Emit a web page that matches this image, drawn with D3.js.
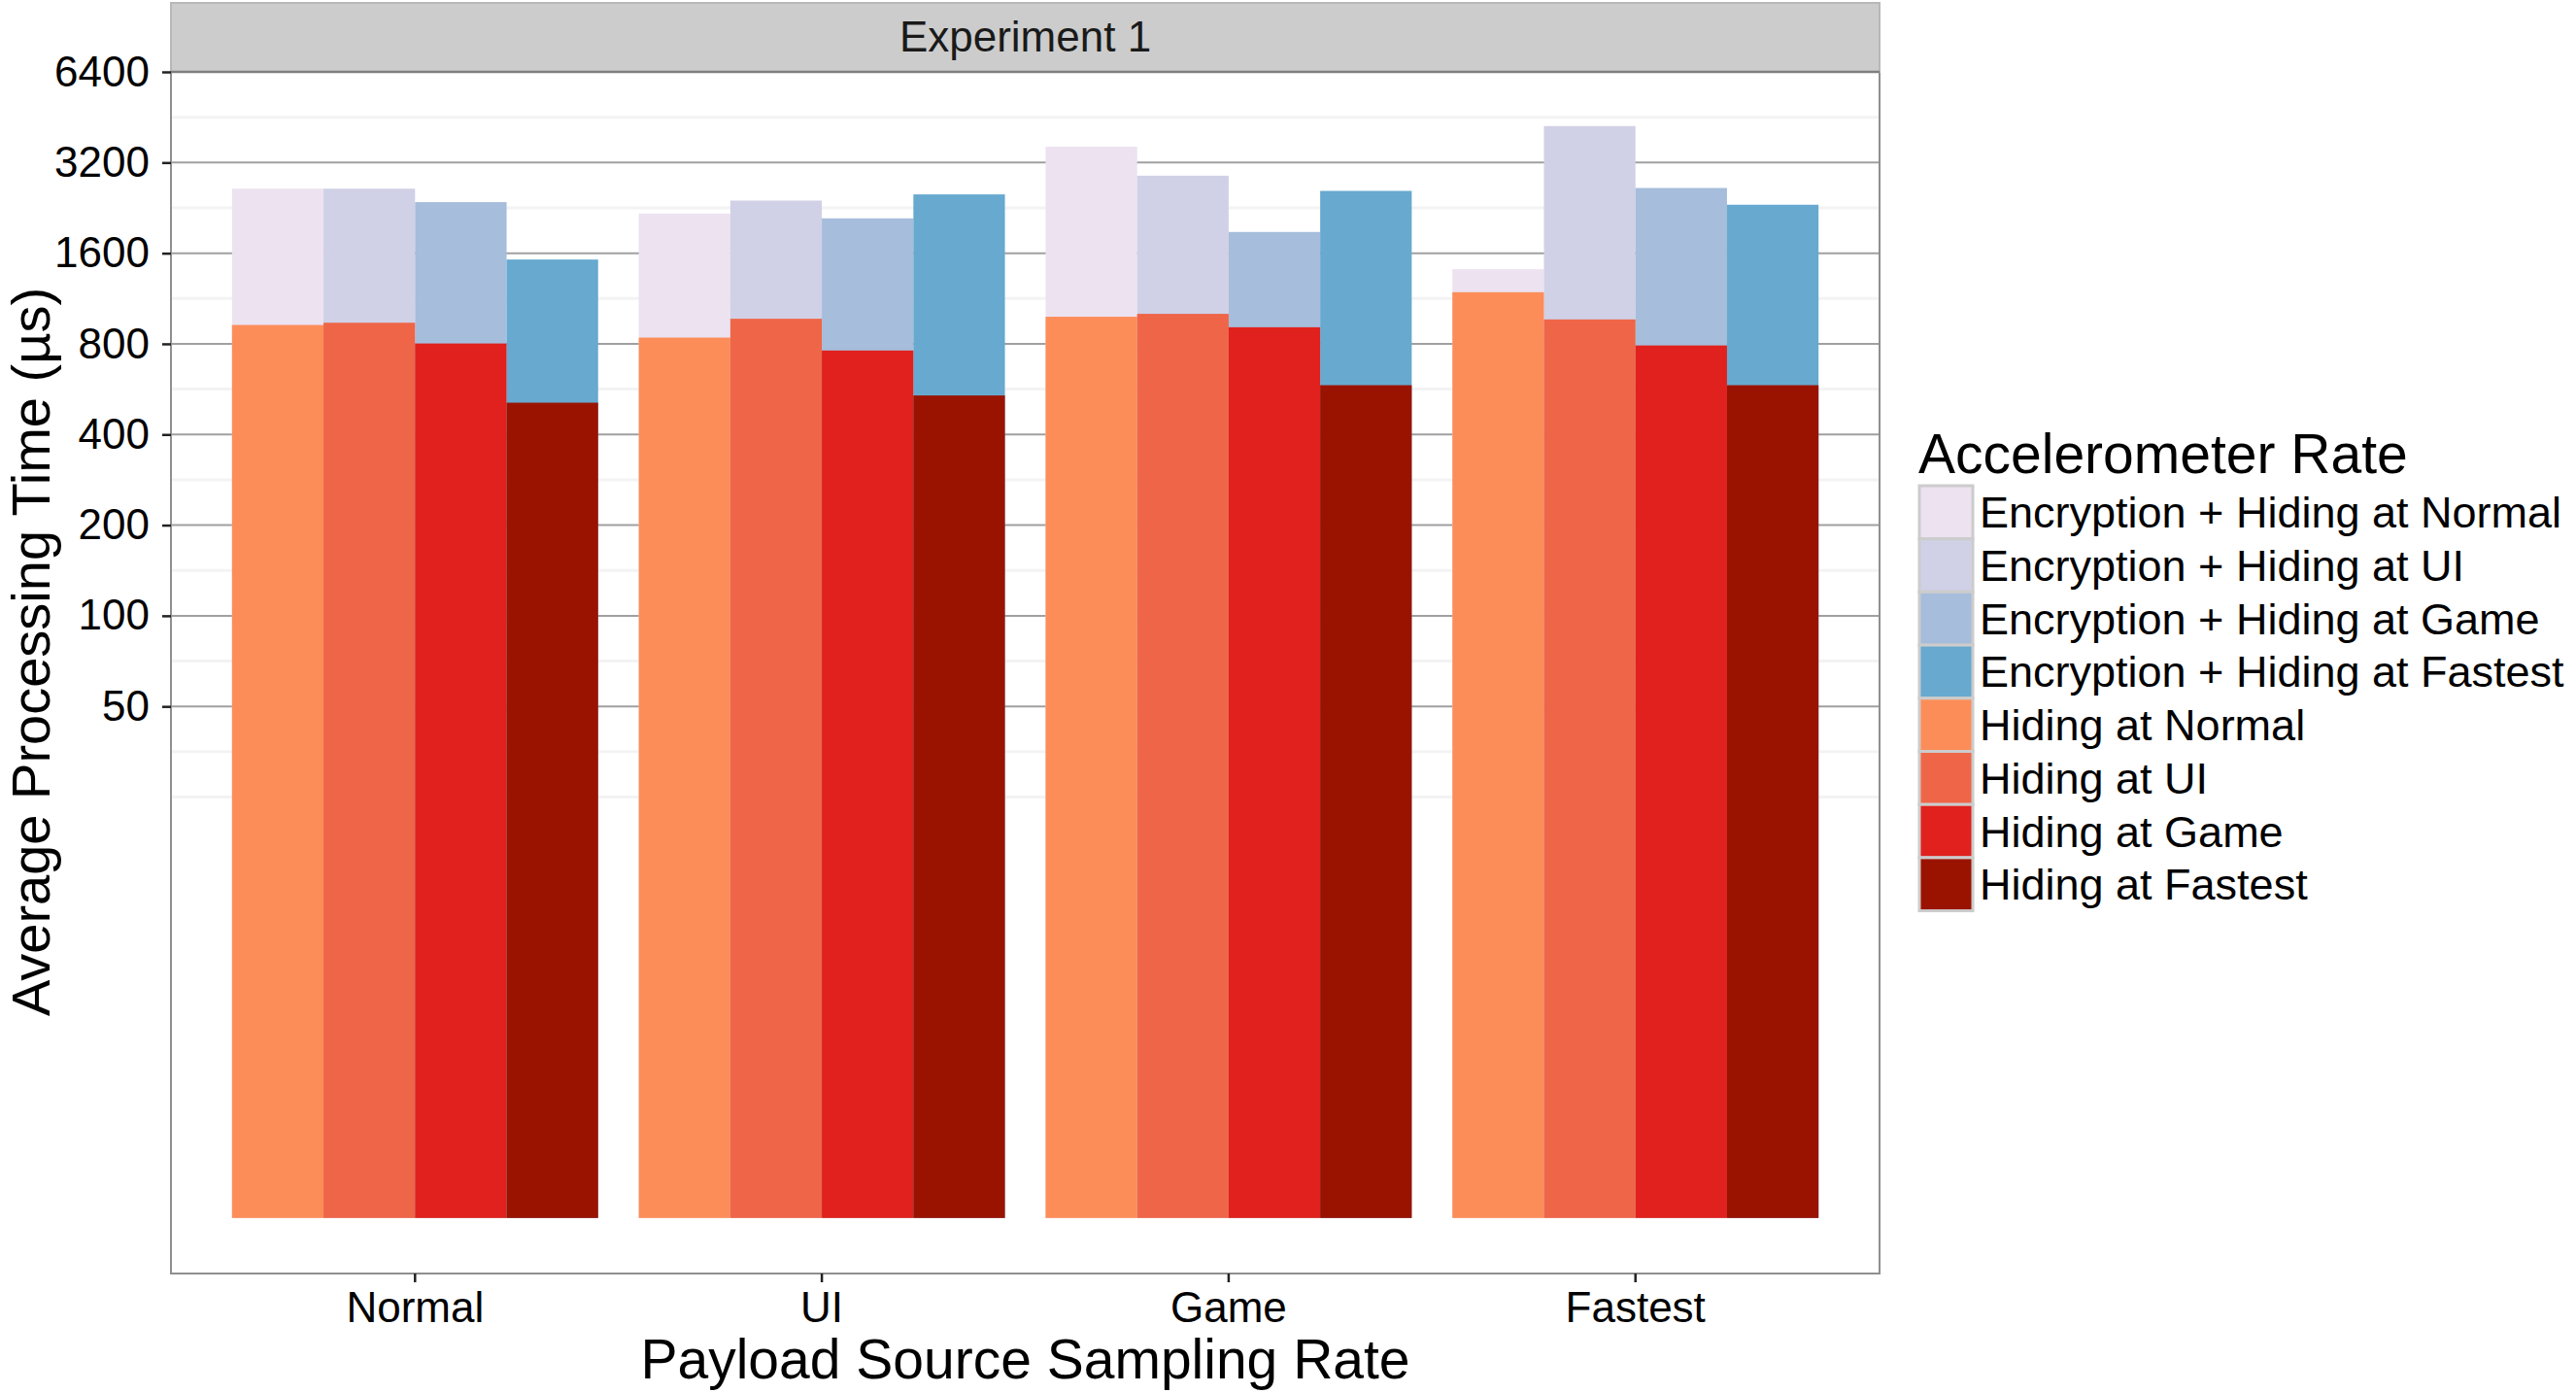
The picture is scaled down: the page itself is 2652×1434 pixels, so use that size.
<!DOCTYPE html>
<html>
<head>
<meta charset="utf-8">
<script src="https://cdn.jsdelivr.net/npm/d3@7"></script>
<style>
  body { margin: 0; background: #fff; }
  text { font-family: "Liberation Sans", Arial, Helvetica, sans-serif; }
</style>
</head>
<body>
<svg id="chart" width="2652" height="1434"></svg>
<script>
// payload source sampling rates (x axis groups)
var categories = ["Normal", "UI", "Game", "Fastest"];
// accelerometer rates (bars inside each group)
var rates = ["Normal", "UI", "Game", "Fastest"];

// average processing time (µs), one value per payload category
var hidingNormal  = [924, 839, 984, 1187];
var hidingUI      = [940, 969, 1006, 964];
var hidingGame    = [802, 760, 908, 790];
var hidingFastest = [510, 539, 583, 583];
var encNormal  = [2620, 2166, 3610, 1415];
var encUI      = [2620, 2392, 2894, 4229];
var encGame    = [2364, 2088, 1882, 2634];
var encFastest = [1524, 2508, 2576, 2317];

var yTicks = [50, 100, 200, 400, 800, 1600, 3200, 6400];

var encColors = ["#ECE2F0", "#D0D1E6", "#A6BDDB", "#67A9CF"];
var hidingColors = ["#FC8D59", "#EF6548", "#E0211D", "#9A1300"];

var encSeries = [encNormal, encUI, encGame, encFastest];
var hidingSeries = [hidingNormal, hidingUI, hidingGame, hidingFastest];

var legendLabels = rates.map(function(r){ return "Encryption + Hiding at " + r; })
    .concat(rates.map(function(r){ return "Hiding at " + r; }));
var legendColors = encColors.concat(hidingColors);

// panel box
var panel = {left: 176, right: 1935, top: 74, bottom: 1311};

var svg = d3.select("#chart");
svg.append("rect").attr("width", 2652).attr("height", 1434).attr("fill", "#fff");

// scales
var x0 = d3.scaleBand().domain(categories)
    .range([panel.left, panel.right])
    .paddingInner(0.1).paddingOuter(0.15);
var x1 = d3.scaleBand().domain(rates).range([0, x0.bandwidth()]).padding(0);
// log2 axis, bars start at 1 (log = 0)
var y = d3.scaleLog().base(2).domain([0.654, 6400]).range([panel.bottom, panel.top]);

// minor gridlines halfway (in log space) between breaks, plus the extended break below
var ext = [yTicks[0] / 2].concat(yTicks);
var minor = [yTicks[0] / 2];
for (var i = 0; i < ext.length - 1; i++) minor.push(Math.sqrt(ext[i] * ext[i + 1]));

var grid = svg.append("g").attr("class", "grid");
grid.selectAll("line.minor").data(minor).enter().append("line")
    .attr("class", "minor")
    .attr("x1", panel.left).attr("x2", panel.right)
    .attr("y1", function(d){ return y(d); }).attr("y2", function(d){ return y(d); })
    .attr("stroke", "#F3F3F3").attr("stroke-width", 3);
grid.selectAll("line.major").data(yTicks).enter().append("line")
    .attr("class", "major")
    .attr("x1", panel.left).attr("x2", panel.right)
    .attr("y1", function(d){ return y(d); }).attr("y2", function(d){ return y(d); })
    .attr("stroke", "#A0A0A0").attr("stroke-width", 2);

// bars: encryption+hiding behind, hiding in front
function drawBars(series, colors, cls){
    var g = svg.append("g").attr("class", cls);
    series.forEach(function(values, ri){
        g.selectAll("rect.r" + ri).data(values).enter().append("rect")
            .attr("class", "r" + ri)
            .attr("x", function(d, ci){ return x0(categories[ci]) + x1(rates[ri]); })
            .attr("width", x1.bandwidth())
            .attr("y", function(d){ return y(d); })
            .attr("height", function(d){ return y(1) - y(d); })
            .attr("fill", colors[ri]);
    });
}
drawBars(encSeries, encColors, "enc");
drawBars(hidingSeries, hidingColors, "hiding");

// panel border
svg.append("rect")
    .attr("x", panel.left).attr("y", panel.top)
    .attr("width", panel.right - panel.left).attr("height", panel.bottom - panel.top)
    .attr("fill", "none").attr("stroke", "#8F8F8F").attr("stroke-width", 2);

// facet strip
svg.append("rect")
    .attr("x", panel.left).attr("y", 3)
    .attr("width", panel.right - panel.left).attr("height", panel.top - 3)
    .attr("fill", "#CCCCCC").attr("stroke", "#B8B8B8").attr("stroke-width", 2);
svg.append("line")
    .attr("x1", panel.left).attr("x2", panel.right)
    .attr("y1", panel.top).attr("y2", panel.top)
    .attr("stroke", "#7F7F7F").attr("stroke-width", 2.5);
svg.append("text")
    .attr("x", (panel.left + panel.right) / 2).attr("y", 53)
    .attr("text-anchor", "middle")
    .style("font-size", "44px").style("fill", "#1A1A1A")
    .text("Experiment 1");

// y axis
var yAxis = svg.append("g")
    .attr("transform", "translate(" + panel.left + ",0)")
    .call(d3.axisLeft(y).tickValues(yTicks).tickFormat(d3.format("d")).tickSize(9).tickPadding(13));
yAxis.select(".domain").remove();
yAxis.selectAll(".tick line").attr("stroke", "#222").attr("stroke-width", 2.5);
yAxis.selectAll(".tick text").style("font-size", "44px").style("fill", "#000");

// x axis
var xAxis = svg.append("g")
    .attr("transform", "translate(0," + panel.bottom + ")")
    .call(d3.axisBottom(x0).tickSize(9).tickPadding(10));
xAxis.select(".domain").remove();
xAxis.selectAll(".tick line").attr("stroke", "#222").attr("stroke-width", 2.5);
xAxis.selectAll(".tick text").style("font-size", "44px").style("fill", "#000");

// axis titles
svg.append("text")
    .attr("x", (panel.left + panel.right) / 2).attr("y", 1419)
    .attr("text-anchor", "middle")
    .style("font-size", "57px").style("fill", "#000")
    .text("Payload Source Sampling Rate");
svg.append("text")
    .attr("transform", "translate(51,671) rotate(-90)")
    .attr("text-anchor", "middle")
    .style("font-size", "56px").style("fill", "#000")
    .text("Average Processing Time (µs)");

// legend
var legend = svg.append("g").attr("class", "legend");
legend.append("text")
    .attr("x", 1975).attr("y", 487)
    .style("font-size", "57px").style("fill", "#000")
    .text("Accelerometer Rate");
var keyH = 54.7, keyTop = 500;
var items = legend.selectAll("g.item").data(legendLabels).enter().append("g")
    .attr("class", "item")
    .attr("transform", function(d, i){ return "translate(1976," + (keyTop + i * keyH) + ")"; });
items.append("rect")
    .attr("width", 55).attr("height", keyH)
    .attr("fill", function(d, i){ return legendColors[i]; })
    .attr("stroke", "#CCCCCC").attr("stroke-width", 3);
items.append("text")
    .attr("x", 62).attr("y", keyH / 2 + 16)
    .style("font-size", "45px").style("fill", "#000")
    .text(function(d){ return d; });
</script>
</body>
</html>
